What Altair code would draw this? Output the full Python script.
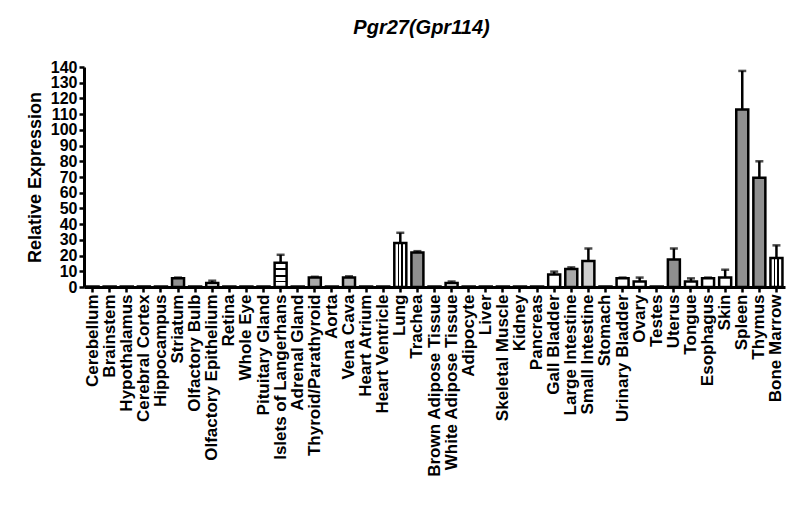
import altair as alt
import pandas as pd

tissues = ["Cerebellum", "Brainstem", "Hypothalamus", "Cerebral Cortex", "Hippocampus",
           "Striatum", "Olfactory Bulb", "Olfactory Epithelium", "Retina", "Whole Eye",
           "Pituitary Gland", "Islets of Langerhans", "Adrenal Gland", "Thyroid/Parathyroid",
           "Aorta", "Vena Cava", "Heart Atrium", "Heart Ventricle", "Lung", "Trachea",
           "Brown Adipose Tissue", "White Adipose Tissue", "Adipocyte", "Liver",
           "Skeletal Muscle", "Kidney", "Pancreas", "Gall Bladder", "Large Intestine",
           "Small Intestine", "Stomach", "Urinary Bladder", "Ovary", "Testes", "Uterus",
           "Tongue", "Esophagus", "Skin", "Spleen", "Thymus", "Bone Marrow"]

values = [0.3, 0.3, 0.3, 0.3, 0.3,
          5.5, 0.3, 2.5, 0.3, 0.3,
          0.3, 15.5, 0.3, 6.0,
          0.3, 6.0, 0.3, 0.3, 28.0, 22.0,
          0.3, 2.5, 0.3, 0.3,
          0.3, 0.3, 0.3, 8.0, 11.5,
          16.5, 0.3, 5.5, 3.5, 0.3, 17.5,
          3.5, 5.5, 6.0, 113.0, 69.5, 18.5]

errors = [0, 0, 0, 0, 0,
          0.5, 0, 1.5, 0, 0,
          0, 5.0, 0, 0.5,
          0, 0.8, 0, 0, 6.5, 0.8,
          0, 1.0, 0, 0,
          0, 0, 0, 1.8, 1.0,
          8.0, 0, 0.5, 2.5, 0, 7.0,
          2.0, 0.5, 5.0, 24.5, 10.5, 8.0]

# bar fill style per tissue (approximating the hatch patterns)
patterns = ["open", "open", "open", "open", "open",
            "diag", "open", "open", "open", "open",
            "open", "hlines", "open", "cross",
            "open", "check", "open", "open", "vlines", "diag",
            "open", "open", "open", "open",
            "open", "open", "open", "open", "cross",
            "dots", "open", "open", "open", "open", "diag",
            "open", "open", "open", "diag", "diag", "vlines"]

fill_of = {"open": "white", "diag": "#8f8f8f", "cross": "#a8a8a8", "check": "#b5b5b5",
           "dots": "#cfcfcf", "vlines": "white", "hlines": "white"}

df = pd.DataFrame({
    "tissue": tissues,
    "value": values,
    "err": errors,
    "pattern": patterns,
})
df["top"] = df["value"] + df["err"]
df["fillc"] = [fill_of[p] for p in patterns]

FONT = "Liberation Sans"
xenc = alt.X("tissue:N", sort=tissues, scale=alt.Scale(paddingInner=0.0, paddingOuter=0.0),
             axis=alt.Axis(title=None, labelAngle=270, labelAlign="right", labelBaseline="middle",
                           labelFontSize=17, labelPadding=2, tickSize=5, labelLimit=300,
                           labelOverlap=False))
yaxis = alt.Axis(title="Relative Expression", values=list(range(0, 150, 10)),
                 labelFontSize=16, titleFontSize=18, titlePadding=6, tickSize=5,
                 labelOverlap=False, labelPadding=2, grid=False)
yscale = alt.Scale(domain=[0, 140], nice=False)
yenc = alt.Y("value:Q", scale=yscale, axis=yaxis)
ytop = alt.Y("top:Q", scale=yscale, axis=yaxis)

base = alt.Chart(df)

rules = base.transform_filter("datum.err > 0").mark_rule(color="black", strokeWidth=2.5).encode(
    x=xenc, y=yenc, y2="top:Q")
caps = base.transform_filter("datum.err > 0").mark_tick(color="black", thickness=2.5, size=8).encode(
    x=xenc, y=ytop)

bars = base.transform_filter("datum.pattern != 'vlines' && datum.pattern != 'hlines'").mark_bar(
    stroke="black", strokeWidth=2.5, size=12).encode(
    x=xenc, y=yenc, fill=alt.Fill("fillc:N", scale=None))

vgrad = alt.LinearGradient(gradient="linear", x1=0, y1=0, x2=1, y2=0, stops=[
    alt.GradientStop(offset=0, color="white"), alt.GradientStop(offset=0.3, color="white"),
    alt.GradientStop(offset=0.3, color="black"), alt.GradientStop(offset=0.42, color="black"),
    alt.GradientStop(offset=0.42, color="white"), alt.GradientStop(offset=0.58, color="white"),
    alt.GradientStop(offset=0.58, color="black"), alt.GradientStop(offset=0.7, color="black"),
    alt.GradientStop(offset=0.7, color="white"), alt.GradientStop(offset=1, color="white")])

hgrad = alt.LinearGradient(gradient="linear", x1=0, y1=0, x2=0, y2=1, stops=[
    alt.GradientStop(offset=0, color="white"), alt.GradientStop(offset=0.24, color="white"),
    alt.GradientStop(offset=0.24, color="black"), alt.GradientStop(offset=0.31, color="black"),
    alt.GradientStop(offset=0.31, color="white"), alt.GradientStop(offset=0.5, color="white"),
    alt.GradientStop(offset=0.5, color="black"), alt.GradientStop(offset=0.57, color="black"),
    alt.GradientStop(offset=0.57, color="white"), alt.GradientStop(offset=0.74, color="white"),
    alt.GradientStop(offset=0.74, color="black"), alt.GradientStop(offset=0.81, color="black"),
    alt.GradientStop(offset=0.81, color="white"), alt.GradientStop(offset=1, color="white")])

vbars = base.transform_filter("datum.pattern == 'vlines'").mark_bar(
    stroke="black", strokeWidth=2.5, size=12, fill=vgrad).encode(x=xenc, y=yenc)
hbars = base.transform_filter("datum.pattern == 'hlines'").mark_bar(
    stroke="black", strokeWidth=2.5, size=12, fill=hgrad).encode(x=xenc, y=yenc)

chart = alt.layer(rules, caps, bars, vbars, hbars).properties(
    width=701, height=220,
    title=alt.TitleParams("Pgr27(Gpr114)", font=FONT, fontSize=20, fontStyle="italic",
                          fontWeight="bold", anchor="middle", dx=-13, offset=21, color="black"),
    autosize=alt.AutoSizeParams(type="none"),
    padding={"left": 76, "top": 59, "right": 7, "bottom": 230},
).configure_view(stroke=None).configure_axis(
    domainColor="black", domainWidth=3, tickColor="black", tickWidth=2.5,
    labelFont=FONT, labelFontWeight="bold", labelColor="black",
    titleFont=FONT, titleFontWeight="bold", titleColor="black",
)

chart.save("out.html", embed_options={"renderer": "svg", "actions": False})
